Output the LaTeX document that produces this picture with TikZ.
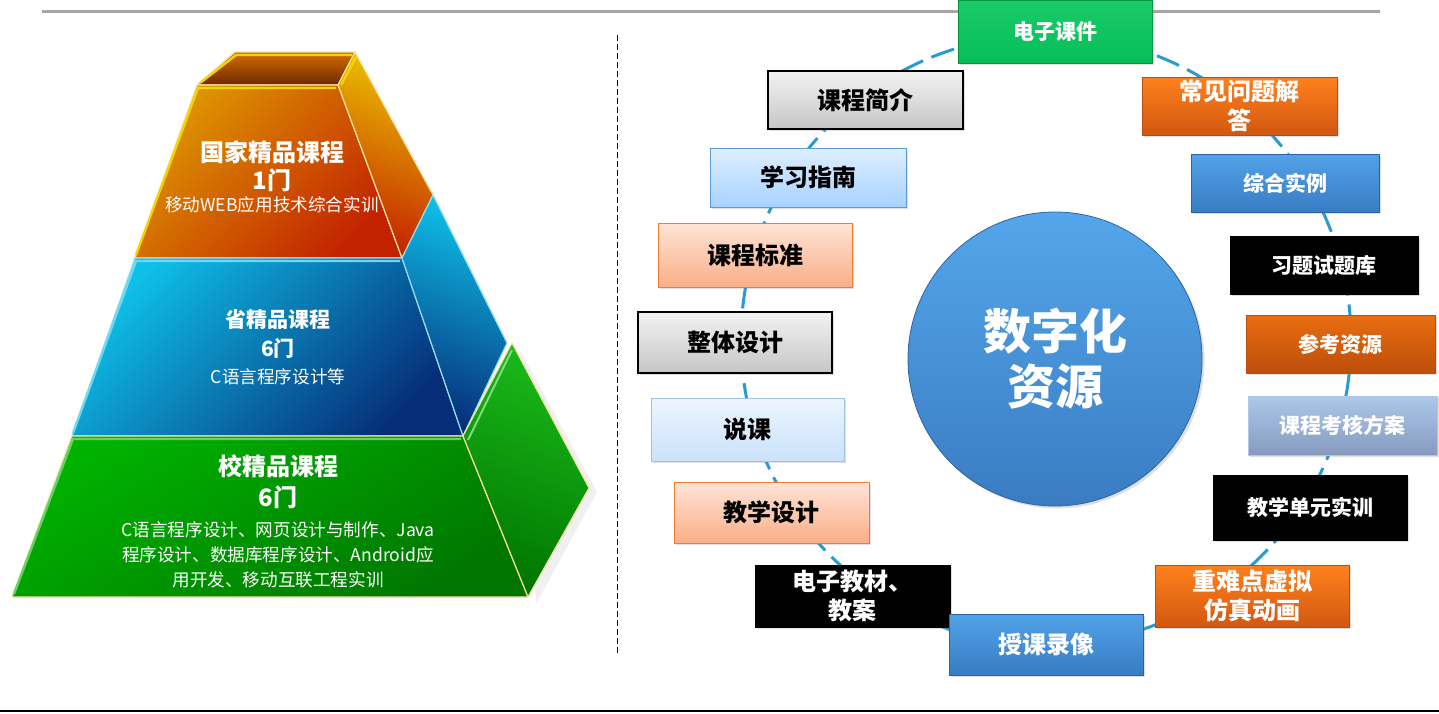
\documentclass[tikz,border=0pt]{standalone}
\usepackage{fontspec}
\setmainfont{Noto Sans CJK SC}
\usepackage{tikz}
\usetikzlibrary{positioning}
\usetikzlibrary{shapes.geometric, shadows}

\definecolor{ringblue}{RGB}{40,156,210}
\definecolor{rulegrey}{RGB}{166,166,166}
\definecolor{kjgreen}{RGB}{8,190,88}
\definecolor{kjgreentop}{RGB}{24,204,104}
\definecolor{kjgreenline}{RGB}{0,150,64}
\definecolor{greytop}{RGB}{242,242,242}
\definecolor{greybot}{RGB}{198,198,198}
\definecolor{skytop}{RGB}{222,238,255}
\definecolor{skybot}{RGB}{166,210,255}
\definecolor{skyline}{RGB}{91,155,213}
\definecolor{peachtop}{RGB}{255,228,214}
\definecolor{peachbot}{RGB}{250,174,136}
\definecolor{peachline}{RGB}{237,125,49}
\definecolor{paletop}{RGB}{236,245,255}
\definecolor{palebot}{RGB}{202,226,250}
\definecolor{paleline}{RGB}{160,196,232}
\definecolor{bluetop}{RGB}{82,162,232}
\definecolor{bluebot}{RGB}{56,124,196}
\definecolor{blueline}{RGB}{40,98,168}
\definecolor{orgtop}{RGB}{255,128,30}
\definecolor{orgbot}{RGB}{210,88,16}
\definecolor{orgline}{RGB}{186,78,18}
\definecolor{rusttop}{RGB}{234,110,18}
\definecolor{rustbot}{RGB}{188,78,10}
\definecolor{steeltop}{RGB}{172,200,234}
\definecolor{steelbot}{RGB}{134,154,190}
\definecolor{circtop}{RGB}{84,166,234}
\definecolor{circbot}{RGB}{58,124,194}
\definecolor{circline}{RGB}{44,100,166}
\definecolor{goldtop}{RGB}{222,150,0}
\definecolor{goldbot}{RGB}{194,34,0}
\definecolor{lidtop}{RGB}{214,110,0}
\definecolor{lidbot}{RGB}{110,40,0}
\definecolor{cyantop}{RGB}{14,192,232}
\definecolor{navybot}{RGB}{6,46,120}
\definecolor{leaftop}{RGB}{0,178,0}
\definecolor{leafbot}{RGB}{0,118,0}
\definecolor{rimyellow}{RGB}{246,224,160}
\definecolor{rimblue}{RGB}{150,220,240}

\tikzstyle{res} = [draw,thin,minimum width=97pt,minimum height=30pt,inner sep=0pt,align=center,font=\fontsize{12}{14.5}\selectfont\bfseries,drop shadow={shadow xshift=1.2pt,shadow yshift=-1.2pt,opacity=0.25}]
\tikzstyle{ressmall} = [res,font=\fontsize{10.5}{12.5}\selectfont\bfseries]
\tikzstyle{greybox} = [top color=greytop,bottom color=greybot,draw=black,line width=0.8pt]
\tikzstyle{skybox} = [top color=skytop,bottom color=skybot,draw=skyline]
\tikzstyle{peachbox} = [top color=peachtop,bottom color=peachbot,draw=peachline]
\tikzstyle{palebox} = [top color=paletop,bottom color=palebot,draw=paleline]
\tikzstyle{blackbox} = [fill=black,draw=black,text=white]
\tikzstyle{bluebox} = [top color=bluetop,bottom color=bluebot,draw=blueline,text=white]
\tikzstyle{orgbox} = [top color=orgtop,bottom color=orgbot,draw=orgline,text=white]
\tikzstyle{rustbox} = [top color=rusttop,bottom color=rustbot,draw=orgline,text=white]
\tikzstyle{steelbox} = [top color=steeltop,bottom color=steelbot,draw=steeltop,text=white]
\tikzstyle{greenbox} = [top color=kjgreentop,bottom color=kjgreen,draw=kjgreenline,text=white]
\tikzstyle{ring} = [ringblue,line width=1.5pt,dash pattern=on 12pt off 4.5pt]
\tikzstyle{tier} = [line width=0.6pt,line join=round]
\tikzstyle{tiertitle} = [text=white,font=\fontsize{12}{14}\selectfont\bfseries,inner sep=0pt]
\tikzstyle{tiernote} = [text=white,font=\fontsize{8.8}{12.5}\selectfont,inner sep=0pt,align=center]

\begin{document}
\begin{tikzpicture}[x=0.5pt,y=-0.5pt]
			\useasboundingbox[fill=white] (0,0) rectangle (1439,713);
			%Frame
			\draw[rulegrey,line width=1.5pt] (42,11) -- (1380,11);
			\draw[black,line width=0.8pt] (0,711) -- (1439,711);
			\draw[black,line width=0.5pt,dash pattern=on 3pt off 1.5pt] (617,35) -- (617,655);
			
			%Pyramid
			\fill[black,opacity=0.06] (20,604) -- (536,604) -- (597,492) -- (520,350) -- (440,200) -- (520,350) -- (536,604) -- cycle;
			\shade[tier,draw=rimyellow,top color=lidtop,bottom color=lidbot] (235,52) -- (355,52) -- (338,85) -- (197,85) -- cycle;
			\shade[tier,draw=rimyellow,top color=goldtop,bottom color=goldbot,shading angle=45] (197,85) -- (338,85) -- (402,258) -- (135,258) -- cycle;
			\shade[tier,draw=rimyellow,top color=goldtop!60!yellow,bottom color=goldbot,shading angle=-20] (338,85) -- (355,52) -- (433,195) -- (402,258) -- cycle;
			\shade[tier,draw=rimblue,top color=cyantop,bottom color=navybot,shading angle=45] (135,258) -- (402,258) -- (463,436) -- (72,436) -- cycle;
			\shade[tier,draw=rimblue,top color=cyantop,bottom color=navybot,shading angle=-20] (402,258) -- (433,195) -- (507,343) -- (463,436) -- cycle;
			\shade[tier,draw=rimyellow,top color=leaftop,bottom color=leafbot,shading angle=30] (72,436) -- (463,436) -- (528,597) -- (12,597) -- cycle;
			\shade[tier,draw=rimyellow,top color=leaftop!90!white,bottom color=leafbot,shading angle=-20] (463,436) -- (512,343) -- (589,488) -- (528,597) -- cycle;
			\draw[goldtop!40!yellow,line width=1.2pt] (200,83) -- (236,55) -- (352,55);
			\draw[goldtop!40!yellow,line width=1.2pt] (341,85) -- (356,57);
			\draw[goldtop!40!yellow,line width=1.2pt] (136,255) -- (198,88) -- (336,88);
			\draw[cyantop!60!white,line width=1.2pt] (73,433) -- (136,261) -- (400,261);
			\draw[leaftop!60!white,line width=1.2pt] (14,594) -- (73,439) -- (461,439);
			\draw[leaftop!50!white,line width=1pt] (468,440) -- (512,350);
			
			\node[tiertitle] (gjtitle) at (272,152) {国家精品课程};
			\node[tiertitle] (gjcount) at (272,180) {1门};
			\node[tiernote] (gjnote) at (272,205) {移动WEB应用技术综合实训};
			\node[tiertitle,font=\fontsize{10.5}{12}\selectfont\bfseries] (sjtitle) at (278,320) {省精品课程};
			\node[tiertitle,font=\fontsize{10.5}{12}\selectfont\bfseries] (sjcount) at (278,348) {6门};
			\node[tiernote] (sjnote) at (278,377) {C语言程序设计等};
			\node[tiertitle] (xjtitle) at (278,466) {校精品课程};
			\node[tiertitle] (xjcount) at (278,497) {6门};
			\node[tiernote] (xjnote) at (278,555) {C语言程序设计、网页设计与制作、Java\\程序设计、数据库程序设计、Android应\\用开发、移动互联工程实训};
			
			%Lines
			\coordinate (ringc) at (1046,340);
			\draw[ring] (ringc) circle (305);
			
			%Nodes
			\node[circle,minimum size=147pt,top color=circtop,bottom color=circbot,draw=circline,text=white,align=center,font=\fontsize{24}{27.5}\selectfont\bfseries,drop shadow={shadow xshift=1.2pt,shadow yshift=-1.2pt,opacity=0.25}] (szzy) at (1055,359) {数字化\\资源};
			
			\node[ressmall,greenbox,minimum width=97pt,minimum height=31.5pt] (dzkj) at (1055,31.5) {电子课件};
			\node[res,greybox,minimum width=97.5pt,minimum height=29pt] (kcjj) at (865.5,100) {课程简介};
			\node[res,skybox,minimum width=98pt,minimum height=29.5pt] (xxzn) at (808,177.5) {学习指南};
			\node[res,peachbox,minimum width=97pt,minimum height=32pt] (kcbz) at (755,255) {课程标准};
			\node[res,greybox,minimum width=97pt,minimum height=30.5pt] (ztsj) at (735,342.5) {整体设计};
			\node[res,palebox,minimum width=96.5pt,minimum height=31.5pt] (shuoke) at (747.5,429.5) {说课};
			\node[res,peachbox,minimum width=97.5pt,minimum height=30.5pt] (jxsj) at (771.5,512.5) {教学设计};
			\node[res,blackbox,minimum width=97.5pt,minimum height=31pt] (dzjc) at (852.5,596) {电子教材、\\教案};
			\node[res,bluebox,minimum width=97pt,minimum height=30.5pt] (sklx) at (1046,644.5) {授课录像};
			\node[res,orgbox,minimum width=97pt,minimum height=31pt] (zndh) at (1252,596) {重难点虚拟\\仿真动画};
			\node[ressmall,blackbox,minimum width=97pt,minimum height=32.5pt] (dyst) at (1310,507.5) {教学单元实训};
			\node[ressmall,steelbox,minimum width=94.5pt,minimum height=29.5pt] (khfa) at (1342.5,425.5) {课程考核方案};
			\node[ressmall,rustbox,minimum width=94.5pt,minimum height=29pt] (ckzy) at (1340.5,344) {参考资源};
			\node[ressmall,blackbox,minimum width=94pt,minimum height=29pt] (xttk) at (1324,265) {习题试题库};
			\node[ressmall,bluebox,minimum width=94pt,minimum height=29pt] (zhsl) at (1285,183) {综合实例};
			\node[res,orgbox,minimum width=97.5pt,minimum height=29pt] (cjwt) at (1239.5,106) {常见问题解\\答};
		\end{tikzpicture}
\end{document}
